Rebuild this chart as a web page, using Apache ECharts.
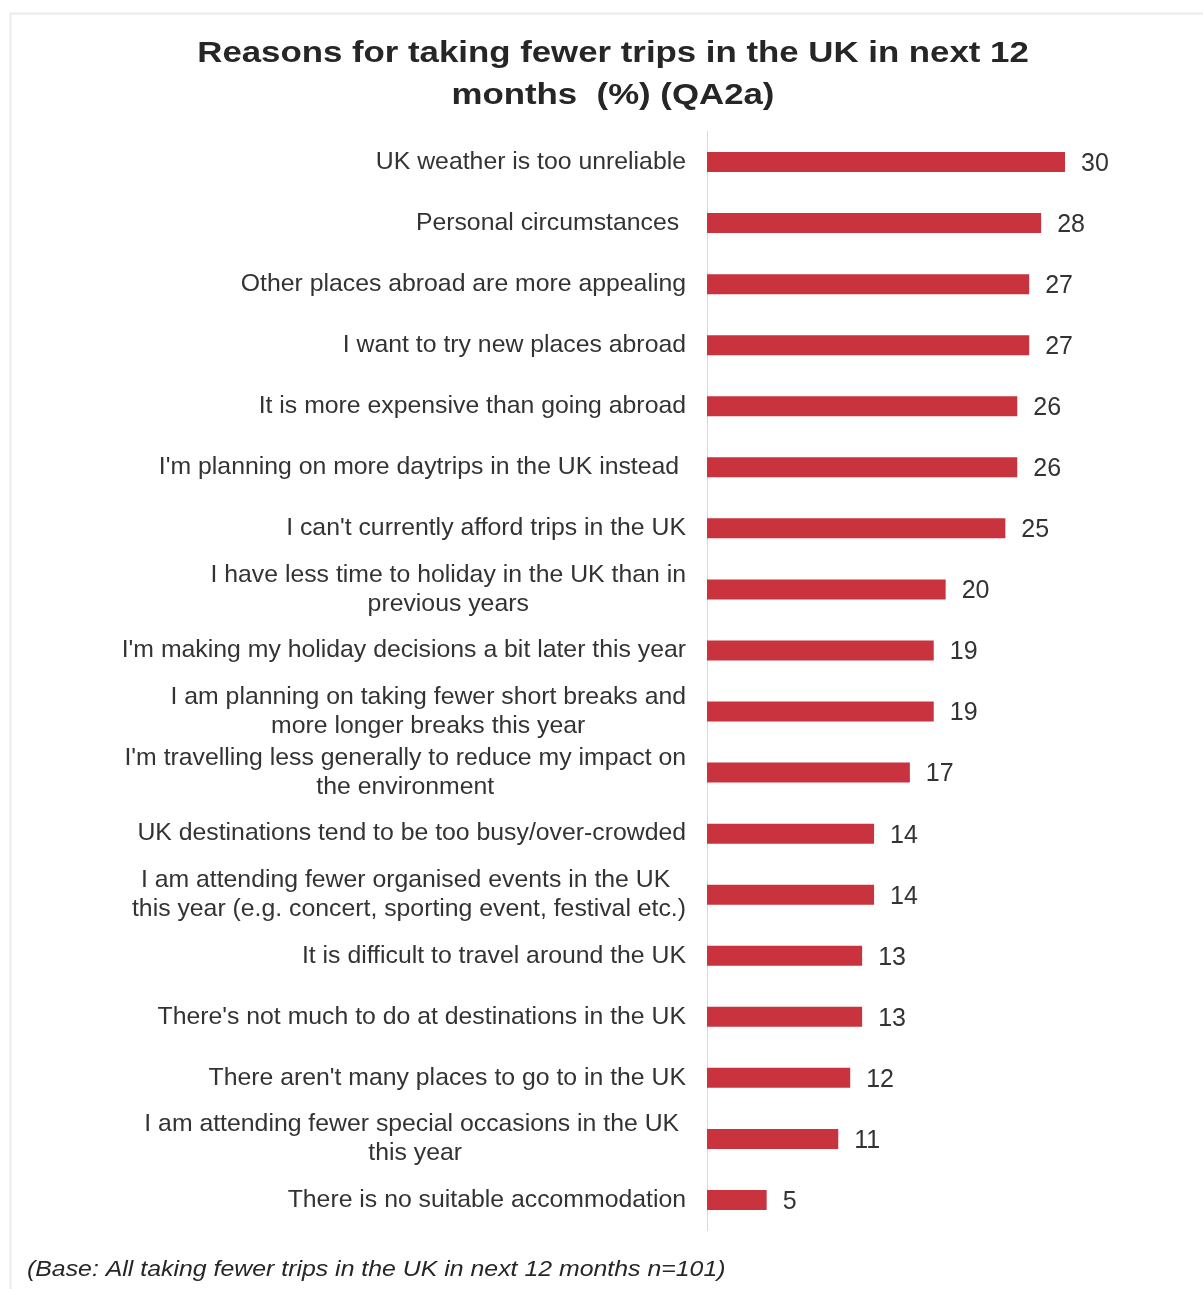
<!DOCTYPE html>
<html>
<head>
<meta charset="utf-8">
<title>Reasons for taking fewer trips in the UK</title>
<script src="https://cdn.jsdelivr.net/npm/echarts@6/dist/echarts.min.js"></script>
<style>
  html, body { margin: 0; padding: 0; background: #ffffff; }
  #chart { width: 1203px; height: 1289px; }
</style>
</head>
<body>
<div id="chart"></div>
<script>
// Reasons given, top to bottom ("\n" marks a line break in the label)
const reasons = [
  'UK weather is too unreliable',
  'Personal circumstances ',
  'Other places abroad are more appealing',
  'I want to try new places abroad',
  'It is more expensive than going abroad',
  "I'm planning on more daytrips in the UK instead ",
  "I can't currently afford trips in the UK",
  'I have less time to holiday in the UK than in\nprevious years',
  "I'm making my holiday decisions a bit later this year",
  'I am planning on taking fewer short breaks and\nmore longer breaks this year',
  "I'm travelling less generally to reduce my impact on\nthe environment",
  'UK destinations tend to be too busy/over-crowded',
  'I am attending fewer organised events in the UK \nthis year (e.g. concert, sporting event, festival etc.)',
  'It is difficult to travel around the UK',
  "There's not much to do at destinations in the UK",
  "There aren't many places to go to in the UK",
  'I am attending fewer special occasions in the UK \nthis year',
  'There is no suitable accommodation'
];

// Share of respondents (%)
const shares = [30, 28, 27, 27, 26, 26, 25, 20, 19, 19, 17, 14, 14, 13, 13, 12, 11, 5];

const titleLines = ['Reasons for taking fewer trips in the UK in next 12', 'months  (%) (QA2a)'];
const baseNote = '(Base: All taking fewer trips in the UK in next 12 months n=101)';

const FONT = '"Liberation Sans", Arial, sans-serif';

const chart = echarts.init(document.getElementById('chart'), null, { renderer: 'canvas' });

chart.setOption({
  backgroundColor: '#ffffff',
  animation: false,
  graphic: [{
    // light panel frame
    type: 'rect',
    silent: true,
    z: -10,
    shape: { x: 10.5, y: 13.5, width: 1400, height: 1400 },
    style: { fill: 'none', stroke: '#ebebeb', lineWidth: 2 }
  }, {
    type: 'text',
    x: 613, y: 54, scaleX: 1.16,
    style: {
      text: titleLines[0],
      fontFamily: FONT, fontWeight: 'bold', fontSize: 30,
      fill: '#262626', align: 'center', verticalAlign: 'middle'
    }
  }, {
    type: 'text',
    x: 613, y: 96, scaleX: 1.16,
    style: {
      text: titleLines[1],
      fontFamily: FONT, fontWeight: 'bold', fontSize: 30,
      fill: '#262626', align: 'center', verticalAlign: 'middle'
    }
  }, {
    type: 'text',
    x: 27, y: 1270, scaleX: 1.13,
    style: {
      text: baseNote,
      fontFamily: FONT, fontStyle: 'italic', fontSize: 22,
      fill: '#262626', align: 'left', verticalAlign: 'middle'
    }
  }],
  grid: {
    left: 707,
    top: 131.5,
    width: 358,
    height: 1099,
    containLabel: false
  },
  xAxis: {
    type: 'value',
    min: 0,
    max: 30,
    show: false
  },
  yAxis: {
    type: 'category',
    inverse: true,
    data: reasons,
    axisLine: { show: true, lineStyle: { color: '#d9d9d9', width: 1 } },
    axisTick: { show: false },
    splitLine: { show: false },
    axisLabel: {
      margin: 21,
      align: 'right',
      formatter: function (value) {
        return value.split('\n').map(function (line) { return '{c|' + line + '}'; }).join('\n');
      },
      rich: {
        c: {
          align: 'center',
          fontFamily: FONT,
          fontSize: 24.8,
          lineHeight: 29,
          color: '#333333'
        }
      }
    }
  },
  series: [{
    type: 'bar',
    data: shares,
    barWidth: 20,
    itemStyle: { color: '#C9333D' },
    label: {
      show: true,
      position: 'right',
      distance: 16,
      offset: [0, 2],
      fontFamily: FONT,
      fontSize: 25,
      color: '#333333'
    }
  }]
});
</script>
</body>
</html>
